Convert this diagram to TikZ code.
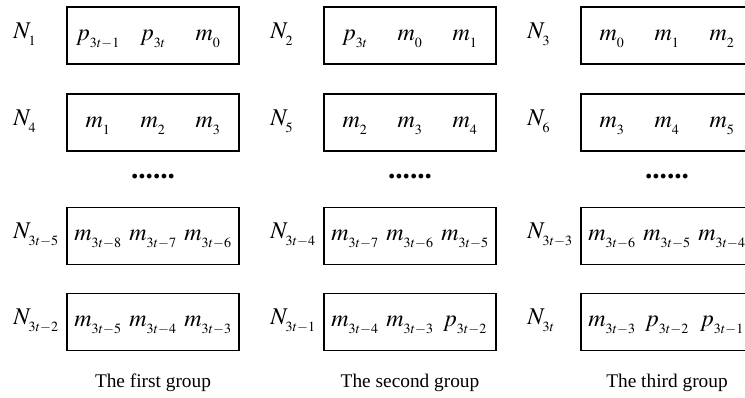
\documentclass[tikz,border=0pt]{standalone}
\usepackage{mathptmx}
\usepackage[no-math]{fontspec}
\setmainfont{Liberation Serif}
\usetikzlibrary{positioning}
\DeclareMathSizes{18}{18}{10.5}{8}
\newcommand{\sx}[2]{#1_{\raisebox{-2.5pt}{$\scriptstyle #2$}}}

\begin{document}
\begin{tikzpicture}[x=0.75pt, y=-0.75pt,
    cell/.style={draw, line width=1pt, minimum width=129pt, minimum height=42.75pt, inner sep=0pt},
    entry/.style={anchor=base, inner sep=0pt, font=\fontsize{18}{21}\selectfont},
    tag/.style={anchor=base west, inner sep=0pt, font=\fontsize{18}{21}\selectfont},
    dots/.style={anchor=base, inner sep=0pt, font=\fontsize{22}{24}\selectfont\bfseries},
    caption/.style={inner sep=0pt, font=\fontsize{14.5}{17}\selectfont}]
    \clip (0,0) rectangle (745,398);

    % Boxes
    \foreach \g/\r/\y/\lab/\a/\b/\c in {
        1/1/35.5/1/\sx{p}{3t-1}/\sx{p}{3t}/\sx{m}{0},
        2/1/35.5/2/\sx{p}{3t}/\sx{m}{0}/\sx{m}{1},
        3/1/35.5/3/\sx{m}{0}/\sx{m}{1}/\sx{m}{2},
        1/2/122.5/4/\sx{m}{1}/\sx{m}{2}/\sx{m}{3},
        2/2/122.5/5/\sx{m}{2}/\sx{m}{3}/\sx{m}{4},
        3/2/122.5/6/\sx{m}{3}/\sx{m}{4}/\sx{m}{5},
        1/3/236/3t-5/\sx{m}{3t-8}/\sx{m}{3t-7}/\sx{m}{3t-6},
        2/3/236/3t-4/\sx{m}{3t-7}/\sx{m}{3t-6}/\sx{m}{3t-5},
        3/3/236/3t-3/\sx{m}{3t-6}/\sx{m}{3t-5}/\sx{m}{3t-4},
        1/4/322/3t-2/\sx{m}{3t-5}/\sx{m}{3t-4}/\sx{m}{3t-3},
        2/4/322/3t-1/\sx{m}{3t-4}/\sx{m}{3t-3}/\sx{p}{3t-2},
        3/4/322/3t/\sx{m}{3t-3}/\sx{p}{3t-2}/\sx{p}{3t-1}}
    {
        \node[cell] (g\g r\r) at ({153+257*(\g-1)},\y) {};
        \node[tag] (n\g r\r) at ({13+257*(\g-1)},\y+3) {$\sx{N}{\lab}$};
        \node[entry] (g\g r\r a) at ([xshift=-41.25pt, yshift=-3.75pt]g\g r\r.center) {$\a$};
        \node[entry] (g\g r\r b) at ([yshift=-3.75pt]g\g r\r.center) {$\b$};
        \node[entry] (g\g r\r c) at ([xshift=41.25pt, yshift=-3.75pt]g\g r\r.center) {$\c$};
    }

    % Dots
    \foreach \g in {1,2,3}
        \node[dots] (dots\g) at ({153+257*(\g-1)},179) {......};

    % Captions
    \node[caption] (cap1) at (153,383) {The first group};
    \node[caption] (cap2) at (410,383) {The second group};
    \node[caption] (cap3) at (667,383) {The third group};
\end{tikzpicture}
\end{document}
